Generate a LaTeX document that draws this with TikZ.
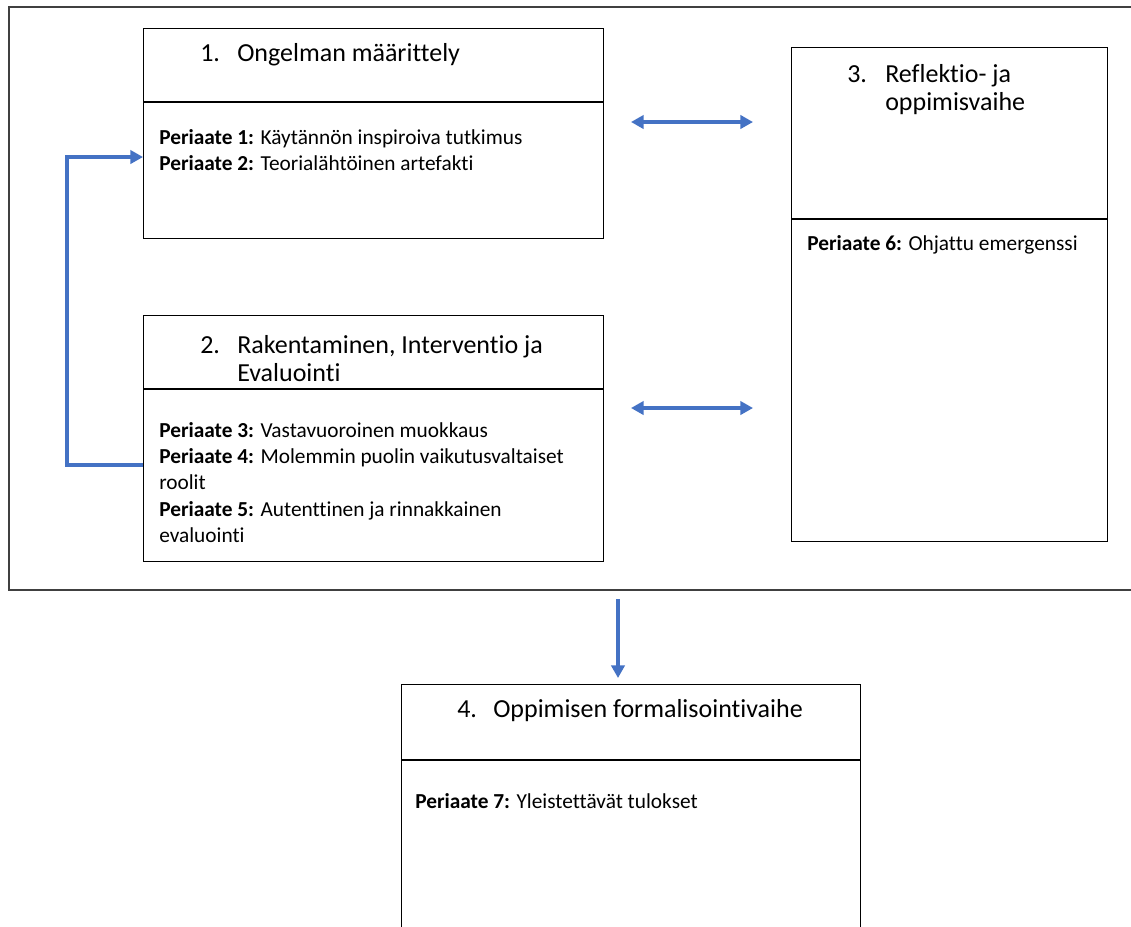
\documentclass[tikz,border=0pt]{standalone}
\usepackage{fontspec}
\setmainfont[Ligatures=NoCommon]{Carlito}
\usetikzlibrary{arrows.meta}
\definecolor{arrowblue}{HTML}{4472C4}
\definecolor{framegray}{HTML}{404040}
\begin{document}
\begin{tikzpicture}[x=0.75pt,y=-0.75pt,
  box/.style={draw=black,line width=0.8pt,rectangle,inner sep=0pt,anchor=north west},
  divider/.style={draw=black,line width=0.8pt},
  ttl/.style={anchor=base west,inner sep=0pt,font=\fontsize{19.5}{23}\selectfont},
  body/.style={anchor=base west,inner sep=0pt,font=\fontsize{16}{19}\selectfont},
  conn/.style={draw=arrowblue,line width=2.3pt,-{Triangle[length=9.5pt,width=10pt]}},
  dconn/.style={draw=arrowblue,line width=2.3pt,{Triangle[length=9.5pt,width=10pt]}-{Triangle[length=9.5pt,width=10pt]}}]
\useasboundingbox (0,0) rectangle (1131,926);
% outer frame (continues past the right edge)
\draw[framegray,line width=1.1pt] (1140,7) -- (9,7) -- (9,590) -- (1140,590);

% boxes
\node[box,minimum width=345pt,minimum height=157.5pt] (b1) at (143,28) {};
\node[box,minimum width=345pt,minimum height=184.5pt] (b2) at (143,315) {};
\node[box,minimum width=237pt,minimum height=370.5pt] (b3) at (791,47) {};
\node[box,minimum width=344.25pt,minimum height=195pt] (b4) at (401,684) {};
\draw[divider] (143,102) -- (603,102);
\draw[divider] (143,389) -- (603,389);
\draw[divider] (791,219) -- (1107,219);
\draw[divider] (401,760) -- (860,760);

% box 1
\node[ttl] (n1) at (200,61) {1.};
\node[ttl] (t1) at (237,61) {Ongelman määrittely};
\node[body] (p1) at (159,144) {\textbf{Periaate 1:} Käytännön inspiroiva tutkimus};
\node[body] (p2) at (159,170) {\textbf{Periaate 2:} Teorialähtöinen artefakti};

% box 2
\node[ttl] (n2) at (200,353) {2.};
\node[ttl] (t2a) at (237,353) {Rakentaminen, Interventio ja};
\node[ttl] (t2b) at (237,381) {Evaluointi};
\node[body] (p3) at (159,437) {\textbf{Periaate 3:} Vastavuoroinen muokkaus};
\node[body] (p4a) at (159,463) {\textbf{Periaate 4:} Molemmin puolin vaikutusvaltaiset};
\node[body] (p4b) at (159,489) {roolit};
\node[body] (p5a) at (159,516) {\textbf{Periaate 5:} Autenttinen ja rinnakkainen};
\node[body] (p5b) at (159,542) {evaluointi};

% box 3
\node[ttl] (n3) at (847,82) {3.};
\node[ttl] (t3a) at (885,82) {Reflektio- ja};
\node[ttl] (t3b) at (885,110) {oppimisvaihe};
\node[body] (p6) at (807,250) {\textbf{Periaate 6:} Ohjattu emergenssi};

% box 4
\node[ttl] (n4) at (457,717) {4.};
\node[ttl] (t4) at (493,717) {Oppimisen formalisointivaihe};
\node[body] (p7) at (415,808) {\textbf{Periaate 7:} Yleistettävät tulokset};

% connectors
\coordinate (a1l) at (631,122);
\coordinate (a1r) at (753,122);
\coordinate (a2l) at (631,408);
\coordinate (a2r) at (753,408);
\coordinate (dtop) at (618,599);
\draw[dconn] (a1l) -- (a1r);
\draw[dconn] (a2l) -- (a2r);
\draw[conn,shorten >=4.5pt] (dtop) -- (dtop |- b4.north);
\draw[conn] (b2.west |- 0,465) -- (67,465) -- (67,157) -- (b1.west |- 0,157);
\end{tikzpicture}
\end{document}
